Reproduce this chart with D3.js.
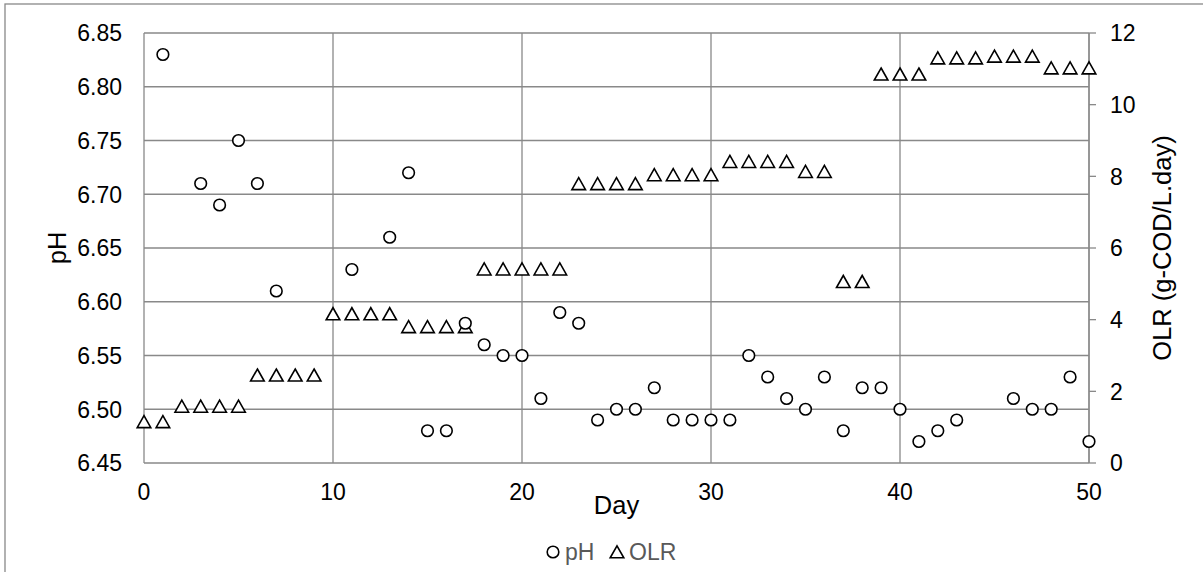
<!DOCTYPE html>
<html>
<head>
<meta charset="utf-8">
<script src="https://cdn.jsdelivr.net/npm/d3@7"></script>
<style>
  body { margin: 0; background: #fff; }
  svg { display: block; font-family: "Liberation Sans", Arial, sans-serif; }
</style>
</head>
<body>
<svg id="chart" width="1203" height="572"></svg>
<script>
// pH readings (days with a measurement)
const phDays = [1, 3, 4, 5, 6, 7, 11, 13, 14, 15, 16, 17, 18, 19, 20, 21, 22, 23, 24, 25, 26, 27, 28, 29, 30,
  31, 32, 33, 34, 35, 36, 37, 38, 39, 40, 41, 42, 43, 46, 47, 48, 49, 50];
const phValues = [6.83, 6.71, 6.69, 6.75, 6.71, 6.61, 6.63, 6.66, 6.72, 6.48, 6.48, 6.58, 6.56, 6.55, 6.55, 6.51,
  6.59, 6.58, 6.49, 6.50, 6.50, 6.52, 6.49, 6.49, 6.49, 6.49, 6.55, 6.53, 6.51, 6.50, 6.53, 6.48, 6.52, 6.52,
  6.50, 6.47, 6.48, 6.49, 6.51, 6.50, 6.50, 6.53, 6.47];

// OLR, one value per day 0..50
const olrDays = d3.range(0, 51);
const olrValues = [1.15, 1.15, 1.58, 1.58, 1.58, 1.58, 2.45, 2.45, 2.45, 2.45, 4.16, 4.16, 4.16, 4.16,
  3.80, 3.80, 3.80, 3.80, 5.41, 5.41, 5.41, 5.41, 5.41, 7.79, 7.79, 7.79, 7.79, 8.04, 8.04, 8.04, 8.04,
  8.41, 8.41, 8.41, 8.41, 8.13, 8.13, 5.06, 5.06, 10.85, 10.85, 10.85, 11.30, 11.30, 11.30, 11.35, 11.35,
  11.35, 11.02, 11.02, 11.02];

const xTicks = [0, 10, 20, 30, 40, 50];
const phTicks = [6.45, 6.50, 6.55, 6.60, 6.65, 6.70, 6.75, 6.80, 6.85];
const olrTicks = [0, 2, 4, 6, 8, 10, 12];

const svg = d3.select('#chart');
const plotL = 144, plotR = 1089, plotT = 33, plotB = 463;
const grid = '#898989';

const x = d3.scaleLinear().domain([0, 50]).range([plotL, plotR]);
const yPh = d3.scaleLinear().domain([6.45, 6.85]).range([plotB, plotT]);
const yOlr = d3.scaleLinear().domain([0, 12]).range([plotB, plotT]);

// outer chart border (runs off the right / bottom edge like the original)
svg.append('rect')
  .attr('x', 5).attr('y', 4).attr('width', 1210).attr('height', 580)
  .attr('fill', 'none').attr('stroke', grid).attr('stroke-width', 1.3);

// horizontal grid
svg.append('g').selectAll('line')
  .data(phTicks)
  .join('line')
  .attr('x1', plotL).attr('x2', plotR)
  .attr('y1', d => yPh(d)).attr('y2', d => yPh(d))
  .attr('stroke', grid).attr('stroke-width', 1.3);

// vertical grid
svg.append('g').selectAll('line')
  .data(xTicks)
  .join('line')
  .attr('x1', d => x(d)).attr('x2', d => x(d))
  .attr('y1', plotT).attr('y2', plotB)
  .attr('stroke', grid).attr('stroke-width', 1.3);

// left axis labels
svg.append('g').selectAll('text')
  .data(phTicks)
  .join('text')
  .attr('x', 122).attr('y', d => yPh(d))
  .attr('dy', '0.36em')
  .attr('text-anchor', 'end')
  .attr('font-size', 23)
  .attr('fill', '#000')
  .text(d => d.toFixed(2));

// right axis with outside ticks
const rAxis = svg.append('g');
rAxis.append('line')
  .attr('x1', plotR).attr('x2', plotR).attr('y1', plotT).attr('y2', plotB)
  .attr('stroke', grid).attr('stroke-width', 1.3);
rAxis.selectAll('line.tick')
  .data(olrTicks)
  .join('line')
  .attr('class', 'tick')
  .attr('x1', plotR).attr('x2', plotR + 7)
  .attr('y1', d => yOlr(d)).attr('y2', d => yOlr(d))
  .attr('stroke', grid).attr('stroke-width', 1.3);
rAxis.selectAll('text')
  .data(olrTicks)
  .join('text')
  .attr('x', 1110).attr('y', d => yOlr(d))
  .attr('dy', '0.36em')
  .attr('font-size', 23)
  .attr('fill', '#000')
  .text(d => d);

// x axis labels
svg.append('g').selectAll('text')
  .data(xTicks)
  .join('text')
  .attr('x', d => x(d)).attr('y', 492)
  .attr('dy', '0.36em')
  .attr('text-anchor', 'middle')
  .attr('font-size', 23)
  .attr('fill', '#000')
  .text(d => d);

// axis titles
svg.append('text')
  .attr('x', (plotL + plotR) / 2).attr('y', 505)
  .attr('dy', '0.36em')
  .attr('text-anchor', 'middle')
  .attr('font-size', 25.5)
  .text('Day');

svg.append('text')
  .attr('transform', `translate(57,${(plotT + plotB) / 2}) rotate(-90)`)
  .attr('dy', '0.36em')
  .attr('text-anchor', 'middle')
  .attr('font-size', 25.5)
  .text('pH');

svg.append('text')
  .attr('transform', `translate(1162,${(plotT + plotB) / 2}) rotate(-90)`)
  .attr('dy', '0.36em')
  .attr('text-anchor', 'middle')
  .attr('font-size', 25.5)
  .text('OLR (g-COD/L.day)');

// markers
const triPath = 'M0,-6.2L6.8,5.8L-6.8,5.8Z';

svg.append('g').selectAll('path')
  .data(olrDays.map((d, i) => [d, olrValues[i]]))
  .join('path')
  .attr('d', triPath)
  .attr('transform', d => `translate(${x(d[0])},${yOlr(d[1])})`)
  .attr('fill', '#fff')
  .attr('stroke', '#000')
  .attr('stroke-width', 1.6);

svg.append('g').selectAll('circle')
  .data(phDays.map((d, i) => [d, phValues[i]]))
  .join('circle')
  .attr('cx', d => x(d[0]))
  .attr('cy', d => yPh(d[1]))
  .attr('r', 5.8)
  .attr('fill', '#fff')
  .attr('stroke', '#000')
  .attr('stroke-width', 1.6);

// legend
const legend = svg.append('g');
legend.append('circle')
  .attr('cx', 553).attr('cy', 552).attr('r', 5.8)
  .attr('fill', '#fff').attr('stroke', '#000').attr('stroke-width', 1.6);
legend.append('text')
  .attr('x', 565).attr('y', 552).attr('dy', '0.36em')
  .attr('font-size', 23).attr('fill', '#595959')
  .text('pH');
legend.append('path')
  .attr('d', triPath)
  .attr('transform', 'translate(617,552)')
  .attr('fill', '#fff').attr('stroke', '#000').attr('stroke-width', 1.6);
legend.append('text')
  .attr('x', 629).attr('y', 552).attr('dy', '0.36em')
  .attr('font-size', 23).attr('fill', '#595959')
  .text('OLR');
</script>
</body>
</html>
